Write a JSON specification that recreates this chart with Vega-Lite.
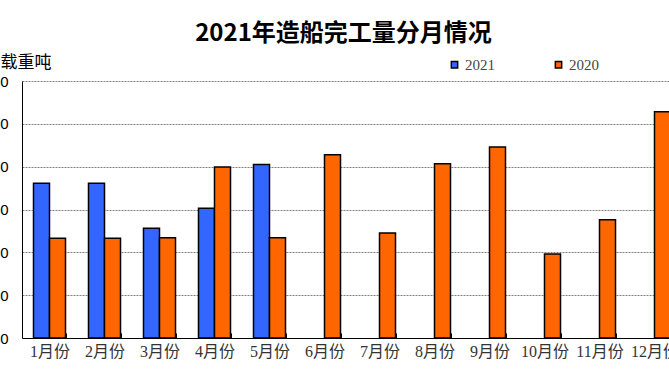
{
  "$schema": "https://vega.github.io/schema/vega-lite/v6.json",
  "width": 647,
  "height": 257,
  "autosize": {"type": "none"},
  "padding": {"left": 22, "top": 81, "right": 0, "bottom": 42},
  "background": "white",
  "title": {
    "text": "2021年造船完工量分月情况",
    "fontSize": 24,
    "font": "Noto Sans CJK SC",
    "fontWeight": "bold",
    "color": "#000000",
    "anchor": "middle",
    "frame": "group",
    "offset": 7,
    "dx": -2
  },
  "data": {
    "values": [
      {"month": "1月份", "year": "2021", "value": 361},
      {"month": "1月份", "year": "2020", "value": 233},
      {"month": "2月份", "year": "2021", "value": 361},
      {"month": "2月份", "year": "2020", "value": 233},
      {"month": "3月份", "year": "2021", "value": 256},
      {"month": "3月份", "year": "2020", "value": 234},
      {"month": "4月份", "year": "2021", "value": 303},
      {"month": "4月份", "year": "2020", "value": 399},
      {"month": "5月份", "year": "2021", "value": 405},
      {"month": "5月份", "year": "2020", "value": 234},
      {"month": "6月份", "year": "2020", "value": 428},
      {"month": "7月份", "year": "2020", "value": 245},
      {"month": "8月份", "year": "2020", "value": 407},
      {"month": "9月份", "year": "2020", "value": 446},
      {"month": "10月份", "year": "2020", "value": 196},
      {"month": "11月份", "year": "2020", "value": 276},
      {"month": "12月份", "year": "2020", "value": 528}
    ]
  },
  "mark": {"type": "bar", "stroke": "#000000", "strokeWidth": 1.5},
  "encoding": {
    "x": {
      "field": "month",
      "type": "nominal",
      "sort": ["1月份","2月份","3月份","4月份","5月份","6月份","7月份","8月份","9月份","10月份","11月份","12月份"],
      "scale": {"range": [0, 660], "paddingInner": 0.418, "paddingOuter": 0.209},
      "axis": {
        "title": null,
        "labelAngle": 0,
        "labelFontSize": 16,
        "labelFont": "Liberation Serif, Noto Sans CJK SC",
        "labelColor": "#333333",
        "tickBand": "extent",
        "tickSize": -5,
        "tickColor": "#000000",
        "domainColor": "#000000",
        "labelPadding": 10,
        "grid": false
      }
    },
    "xOffset": {
      "field": "year",
      "type": "nominal",
      "scale": {"domain": ["2021", "2020"], "paddingInner": 0, "paddingOuter": 0}
    },
    "y": {
      "field": "value",
      "type": "quantitative",
      "scale": {"domain": [0, 600]},
      "axis": {
        "values": [0, 100, 200, 300, 400, 500, 600],
        "title": "万载重吨",
        "titleAngle": 0,
        "titleX": -39,
        "titleY": -27,
        "titleAlign": "left",
        "titleBaseline": "top",
        "titleFontSize": 17,
        "titleFont": "Noto Sans CJK SC",
        "titleFontWeight": "normal",
        "titleColor": "#000000",
        "labelFontSize": 15,
        "labelFont": "Liberation Sans",
        "labelColor": "#000000",
        "ticks": false,
        "labelPadding": 14,
        "domainColor": "#000000",
        "grid": true,
        "gridColor": "#808080",
        "gridDash": [2, 1],
        "gridWidth": 1
      }
    },
    "color": {
      "field": "year",
      "type": "nominal",
      "scale": {"domain": ["2021", "2020"], "range": ["#3366FF", "#FF6600"]},
      "legend": {
        "title": null,
        "orient": "none",
        "direction": "horizontal",
        "legendX": 425,
        "legendY": -24,
        "symbolType": "square",
        "symbolSize": 40,
        "symbolStrokeColor": "#000000",
        "symbolStrokeWidth": 1.5,
        "labelFont": "Liberation Serif",
        "labelFontSize": 15,
        "labelColor": "#444444",
        "labelOffset": 3,
        "columnPadding": 56
      }
    }
  },
  "config": {"view": {"stroke": null}}
}
